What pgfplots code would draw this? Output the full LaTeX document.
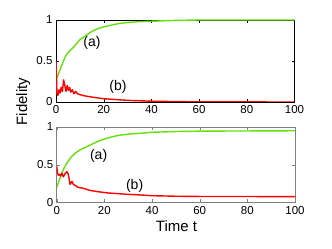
\documentclass[border=0pt]{standalone}
\usepackage{pgfplots}
\pgfplotsset{compat=1.18}
\usepackage{fontspec}
\setmainfont{Liberation Sans}
\definecolor{lgreen}{RGB}{100,225,10}
\definecolor{lred}{RGB}{255,0,0}
\begin{document}
\begin{tikzpicture}
\useasboundingbox (0pt,0pt) rectangle (332pt,249pt);
\pgfplotsset{every axis/.append style={
  scale only axis, width=238.5pt,
  xmin=0, xmax=100, ymin=0, ymax=1,
  xtick={0,20,...,100}, ytick={0,0.5,1},
  tick align=inside, major tick length=3pt,
  ticklabel style={font=\fontsize{11.5}{13}\selectfont},
  /pgf/number format/assume math mode=true,
  yticklabel style={/pgf/number format/fixed},
  anchor=south west,
  every axis plot/.append style={line width=1.4pt, line join=round},
}}
\begin{axis}[at={(56pt,147pt)}, height=82pt, axis line style={black}, tick style={black}]
\addplot[lgreen] coordinates {(0,0.26)(1,0.34)(2,0.42)(3,0.49)(4,0.56)(5,0.6)(6,0.63)(8,0.69)(10,0.76)(12,0.8)(15,0.86)(18,0.9)(22,0.93)(26,0.955)(30,0.97)(35,0.98)(40,0.985)(50,0.995)(60,1)(100,1)};
\addplot[lred] coordinates {(0,0.5)(0.2,0.3)(0.4,0.1)(0.8,0.08)(1.3,0.15)(1.7,0.11)(2.2,0.18)(2.7,0.13)(3.2,0.27)(3.7,0.2)(4.2,0.13)(4.7,0.2)(5.2,0.14)(5.7,0.18)(6.2,0.12)(6.8,0.15)(7.5,0.1)(8.2,0.13)(9,0.1)(10,0.09)(12,0.075)(15,0.06)(20,0.04)(25,0.03)(30,0.02)(40,0.01)(50,0.005)(60,0.002)(100,0)};
\node[font=\fontsize{14}{16}\selectfont] at (axis cs:15.1,0.72) {(a)};
\node[font=\fontsize{14}{16}\selectfont] at (axis cs:26,0.19) {(b)};
\end{axis}
\begin{axis}[at={(56.7pt,46.5pt)}, height=75.5pt, width=238.3pt, axis line style={black!50}, tick style={black!50}]
\addplot[lgreen] coordinates {(0,0.2)(1,0.29)(2,0.37)(3,0.45)(4,0.51)(6,0.6)(8,0.66)(10,0.7)(14,0.76)(18,0.82)(22,0.86)(26,0.89)(30,0.905)(40,0.93)(50,0.94)(60,0.945)(100,0.95)};
\addplot[lred] coordinates {(0,0.48)(0.3,0.4)(0.7,0.36)(1.2,0.37)(1.6,0.35)(2.1,0.39)(2.8,0.34)(3.5,0.38)(4.2,0.41)(4.8,0.38)(5.3,0.3)(5.6,0.24)(6,0.26)(6.4,0.28)(7,0.24)(8,0.22)(9,0.2)(11,0.19)(14,0.16)(18,0.14)(22,0.125)(29,0.11)(35,0.1)(40,0.09)(50,0.083)(60,0.08)(100,0.078)};
\node[font=\fontsize{14}{16}\selectfont] at (axis cs:17.6,0.62) {(a)};
\node[font=\fontsize{14}{16}\selectfont] at (axis cs:32.7,0.22) {(b)};
\end{axis}
\node[rotate=90, anchor=base, font=\fontsize{15}{18}\selectfont] at (27pt,147.5pt) {Fidelity};
\node[anchor=base, font=\fontsize{15}{18}\selectfont] at (176.5pt,17.3pt) {Time t};
\end{tikzpicture}
\end{document}
